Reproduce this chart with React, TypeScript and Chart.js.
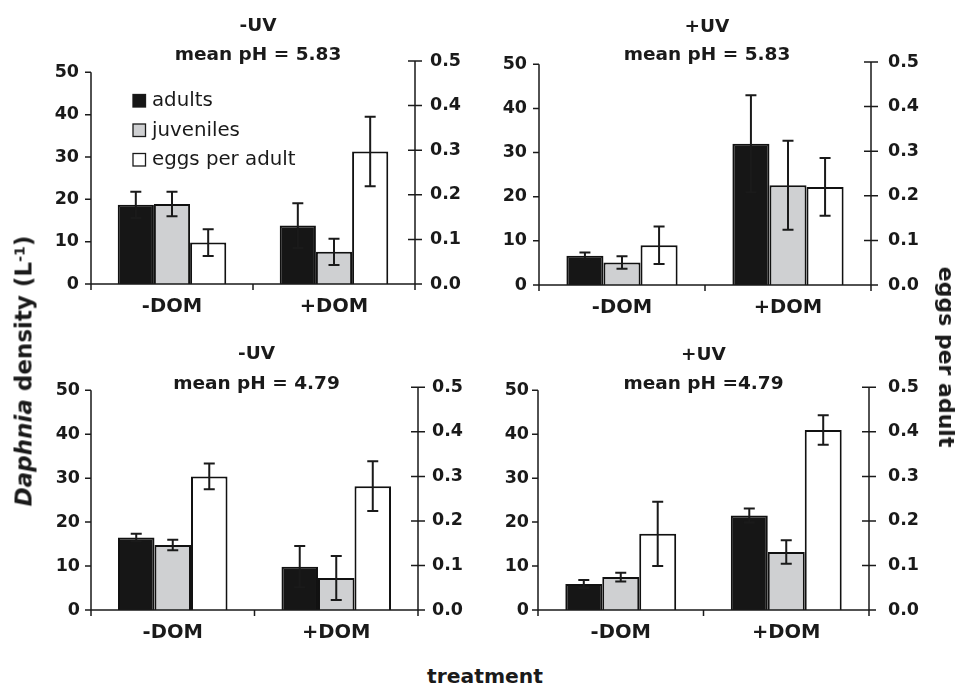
import React, { useEffect, useRef } from 'react';
import { Chart, registerables } from 'chart.js';

Chart.register(...registerables);

// ---------- data ----------
const categories = ['-DOM', '+DOM'];
const seriesNames = ['adults', 'juveniles', 'eggs per adult'];
const densityTicks = [0, 10, 20, 30, 40, 50];
const eggTicks = [0, 0.1, 0.2, 0.3, 0.4, 0.5];

const p1Title = ['-UV', 'mean pH = 5.83'];
const p1Adults = [18.7, 13.8];
const p1AdultsErr = [3.1, 5.3];
const p1Juveniles = [18.9, 7.6];
const p1JuvenilesErr = [2.9, 3.1];
const p1Eggs = [0.093, 0.297];
const p1EggsErr = [0.03, 0.078];

const p2Title = ['+UV', 'mean pH = 5.83'];
const p2Adults = [6.6, 32.0];
const p2AdultsErr = [0.75, 11.0];
const p2Juveniles = [5.1, 22.6];
const p2JuvenilesErr = [1.4, 10.1];
const p2Eggs = [0.089, 0.22];
const p2EggsErr = [0.042, 0.065];

const p3Title = ['-UV', 'mean pH = 4.79'];
const p3Adults = [16.5, 9.85];
const p3AdultsErr = [0.85, 4.7];
const p3Juveniles = [14.8, 7.3];
const p3JuvenilesErr = [1.2, 5.0];
const p3Eggs = [0.3, 0.278];
const p3EggsErr = [0.029, 0.056];

const p4Title = ['+UV', 'mean pH =4.79'];
const p4Adults = [5.9, 21.5];
const p4AdultsErr = [0.9, 1.6];
const p4Juveniles = [7.5, 13.2];
const p4JuvenilesErr = [1.0, 2.7];
const p4Eggs = [0.171, 0.404];
const p4EggsErr = [0.072, 0.033];

// ---------- style ----------
const INK = '#1a1a1a';
const FONT = "'DejaVu Sans', 'Liberation Sans', sans-serif";
const COLORS = ['#161616', '#cfd0d2', '#ffffff'];

type PanelCfg = {
  title: string[];
  adults: number[]; adultsErr: number[];
  juveniles: number[]; juvenilesErr: number[];
  eggs: number[]; eggsErr: number[];
  left: number; top: number; w: number; h: number;
  axL: number; axR: number; padTop: number; axB: number;
  leftMax: number; lpad: number; rpad: number;
  titleY: number[]; titleDx: number; legend: boolean;
};

const panels: PanelCfg[] = [
  {
    title: p1Title, adults: p1Adults, adultsErr: p1AdultsErr, juveniles: p1Juveniles, juvenilesErr: p1JuvenilesErr,
    eggs: p1Eggs, eggsErr: p1EggsErr,
    left: 0, top: 0, w: 481, h: 330, axL: 91, axR: 66, padTop: 61, axB: 46,
    leftMax: 52.67, lpad: 12, rpad: 15, titleY: [26, 55.5], titleDx: 5, legend: true,
  },
  {
    title: p2Title, adults: p2Adults, adultsErr: p2AdultsErr, juveniles: p2Juveniles, juvenilesErr: p2JuvenilesErr,
    eggs: p2Eggs, eggsErr: p2EggsErr,
    left: 481, top: 0, w: 481, h: 330, axL: 58, axR: 91, padTop: 62, axB: 45,
    leftMax: 50.52, lpad: 12, rpad: 17, titleY: [27, 55.5], titleDx: 2, legend: false,
  },
  {
    title: p3Title, adults: p3Adults, adultsErr: p3AdultsErr, juveniles: p3Juveniles, juvenilesErr: p3JuvenilesErr,
    eggs: p3Eggs, eggsErr: p3EggsErr,
    left: 0, top: 330, w: 481, h: 330, axL: 91, axR: 63, padTop: 57.3, axB: 50,
    leftMax: 50.68, lpad: 11, rpad: 14, titleY: [24.5, 54], titleDx: 2, legend: false,
  },
  {
    title: p4Title, adults: p4Adults, adultsErr: p4AdultsErr, juveniles: p4Juveniles, juvenilesErr: p4JuvenilesErr,
    eggs: p4Eggs, eggsErr: p4EggsErr,
    left: 481, top: 330, w: 481, h: 330, axL: 57, axR: 93, padTop: 57.3, axB: 50,
    leftMax: 50.68, lpad: 9, rpad: 19, titleY: [25, 54], titleDx: 0, legend: false,
  },
];

function makeDecor(cfg: PanelCfg) {
  return {
    id: 'panelDecor',
    afterDatasetsDraw(chart: any) {
      const { ctx, chartArea } = chart;
      const xs = chart.scales.x;
      const yl = chart.scales.y;
      const yr = chart.scales.y1;
      ctx.save();
      // error bars
      ctx.strokeStyle = INK;
      ctx.lineWidth = 2;
      chart.data.datasets.forEach((ds: any, di: number) => {
        const meta = chart.getDatasetMeta(di);
        const sc = chart.scales[ds.yAxisID];
        meta.data.forEach((bar: any, i: number) => {
          const v = ds.data[i];
          const e = ds.errors[i];
          const x = bar.x;
          const yHi = sc.getPixelForValue(v + e);
          const yLo = sc.getPixelForValue(Math.max(0, v - e));
          ctx.beginPath();
          ctx.moveTo(x, yHi); ctx.lineTo(x, yLo);
          ctx.moveTo(x - 5.5, yHi); ctx.lineTo(x + 5.5, yHi);
          ctx.moveTo(x - 5.5, yLo); ctx.lineTo(x + 5.5, yLo);
          ctx.stroke();
        });
      });
      // axes
      ctx.lineWidth = 1.5;
      const xL = chartArea.left;
      const xR = chartArea.right;
      const y0 = yl.getPixelForValue(0);
      ctx.beginPath();
      const lTop = yl.ticks[yl.ticks.length - 1].value;
      ctx.moveTo(xL, y0); ctx.lineTo(xL, yl.getPixelForValue(lTop));
      yl.ticks.forEach((t: any) => {
        const y = yl.getPixelForValue(t.value);
        ctx.moveTo(xL - 6, y); ctx.lineTo(xL, y);
      });
      const rTop = yr.ticks[yr.ticks.length - 1].value;
      ctx.moveTo(xR, yr.getPixelForValue(0)); ctx.lineTo(xR, yr.getPixelForValue(rTop));
      yr.ticks.forEach((t: any) => {
        const y = yr.getPixelForValue(t.value);
        ctx.moveTo(xR - 7, y); ctx.lineTo(xR + 7, y);
      });
      ctx.moveTo(xL, y0); ctx.lineTo(xR, y0);
      for (let i = 0; i <= categories.length; i++) {
        const x = xs.getPixelForValue(i - 0.5);
        ctx.moveTo(x, y0); ctx.lineTo(x, y0 + 6);
      }
      ctx.stroke();
      ctx.restore();
    },
    afterDraw(chart: any) {
      const { ctx, chartArea } = chart;
      ctx.save();
      ctx.fillStyle = INK;
      ctx.font = `bold 18.5px ${FONT}`;
      ctx.textAlign = 'center';
      ctx.textBaseline = 'middle';
      const cx = (chartArea.left + chartArea.right) / 2 + cfg.titleDx;
      cfg.title.forEach((line, i) => ctx.fillText(line, cx, cfg.titleY[i]));
      if (cfg.legend) {
        const rows = [100.5, 130, 159.5];
        ctx.font = `19.8px ${FONT}`;
        ctx.textAlign = 'left';
        chart.data.datasets.forEach((ds: any, i: number) => {
          const y = rows[i];
          ctx.fillStyle = ds.backgroundColor;
          ctx.fillRect(133, y - 6, 12.5, 12.5);
          ctx.strokeStyle = INK;
          ctx.lineWidth = 1.3;
          ctx.strokeRect(133, y - 6, 12.5, 12.5);
          ctx.fillStyle = INK;
          ctx.fillText(ds.label, 152, y + 0.5);
        });
      }
      ctx.restore();
    },
  };
}

function Panel({ cfg }: { cfg: PanelCfg }) {
  const ref = useRef<HTMLCanvasElement | null>(null);
  useEffect(() => {
    if (!ref.current) return;
    const common = { borderColor: '#111111', borderWidth: 2, categoryPercentage: 0.67, barPercentage: 1 };
    const tickFont = { family: FONT, weight: 'bold' as const, size: 17.5 };
    const chart = new Chart(ref.current, {
      type: 'bar',
      data: {
        labels: categories,
        datasets: [
          { label: seriesNames[0], data: cfg.adults, errors: cfg.adultsErr, yAxisID: 'y', backgroundColor: COLORS[0], ...common } as any,
          { label: seriesNames[1], data: cfg.juveniles, errors: cfg.juvenilesErr, yAxisID: 'y', backgroundColor: COLORS[1], ...common } as any,
          { label: seriesNames[2], data: cfg.eggs, errors: cfg.eggsErr, yAxisID: 'y1', backgroundColor: COLORS[2], ...common } as any,
        ],
      },
      options: {
        responsive: false,
        maintainAspectRatio: false,
        animation: false,
        devicePixelRatio: 1,
        events: [],
        layout: { padding: { top: cfg.padTop, left: 0, right: 0, bottom: 0 } },
        plugins: { legend: { display: false }, title: { display: false }, tooltip: { enabled: false } },
        scales: {
          x: {
            type: 'category',
            offset: true,
            grid: { display: false, drawTicks: false },
            border: { display: false },
            ticks: { color: INK, font: { family: FONT, weight: 'bold', size: 19.5, lineHeight: 1.2 }, padding: 11, maxRotation: 0 },
            afterFit: (s: any) => { s.height = cfg.axB; },
          },
          y: {
            type: 'linear',
            position: 'left',
            min: 0,
            max: cfg.leftMax,
            grid: { display: false, drawTicks: false },
            border: { display: false },
            ticks: { color: INK, font: tickFont, padding: cfg.lpad, stepSize: 10, callback: (v: any) => String(v) },
            afterBuildTicks: (s: any) => { s.ticks = densityTicks.map((v) => ({ value: v })); },
            afterFit: (s: any) => { s.width = cfg.axL; },
          },
          y1: {
            type: 'linear',
            position: 'right',
            min: 0,
            max: 0.5,
            grid: { display: false, drawTicks: false },
            border: { display: false },
            ticks: { color: INK, font: tickFont, padding: cfg.rpad, stepSize: 0.1, callback: (v: any) => Number(v).toFixed(1) },
            afterBuildTicks: (s: any) => { s.ticks = eggTicks.map((v) => ({ value: v })); },
            afterFit: (s: any) => { s.width = cfg.axR; },
          },
        },
      } as any,
      plugins: [makeDecor(cfg)],
    });
    return () => chart.destroy();
  }, [cfg]);
  return (
    <canvas
      ref={ref}
      width={cfg.w}
      height={cfg.h}
      style={{ position: 'absolute', left: cfg.left, top: cfg.top, width: cfg.w, height: cfg.h }}
    />
  );
}

const labelBase: React.CSSProperties = {
  position: 'absolute',
  whiteSpace: 'nowrap',
  fontFamily: FONT,
  fontWeight: 'bold',
  color: INK,
  lineHeight: 1,
};

export default function App() {
  return (
    <div style={{ position: 'absolute', left: 0, top: 0, width: 962, height: 687, background: '#ffffff', overflow: 'hidden' }}>
      {panels.map((p, i) => <Panel key={i} cfg={p} />)}
      <div style={{ ...labelBase, left: 24, top: 371, fontSize: 23, transform: 'translate(-50%, -50%) rotate(-90deg)' }}>
        <i>Daphnia</i> density (L<span style={{ fontSize: '0.62em', position: 'relative', top: '-0.5em' }}>-1</span>)
      </div>
      <div style={{ ...labelBase, left: 946, top: 357, fontSize: 22, transform: 'translate(-50%, -50%) rotate(90deg)' }}>
        eggs per adult
      </div>
      <div style={{ ...labelBase, left: 485, top: 676, fontSize: 20.3, transform: 'translate(-50%, -50%)' }}>
        treatment
      </div>
    </div>
  );
}
